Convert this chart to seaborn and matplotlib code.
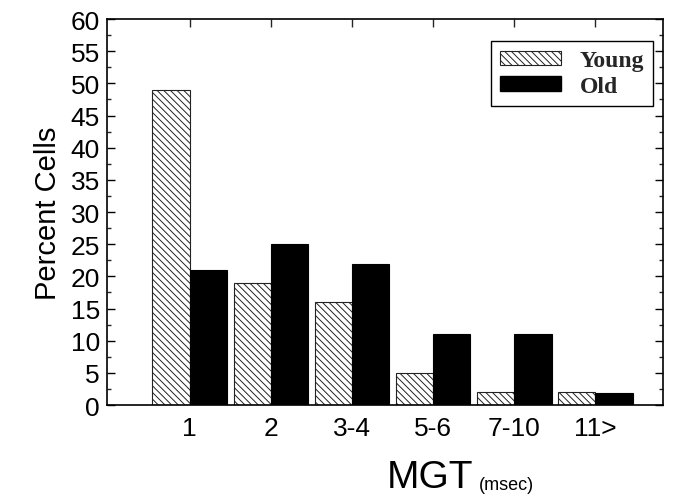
import matplotlib
matplotlib.use("Agg")
import matplotlib.pyplot as plt
import seaborn as sns
import pandas as pd
from matplotlib.patches import Patch
from matplotlib.ticker import MultipleLocator

categories = ["1", "2", "3-4", "5-6", "7-10", "11>"]
young = [49, 19, 16, 5, 2, 2]
old = [21, 25, 22, 11, 11, 1.8]
groups = ["Young", "Old"]

df = pd.DataFrame({
    "MGT": categories * 2,
    "Percent": young + old,
    "Group": [groups[0]] * len(categories) + [groups[1]] * len(categories),
})

sns.set_theme(style="white")
plt.rcParams["font.family"] = ["Liberation Sans", "DejaVu Sans"]
plt.rcParams["hatch.linewidth"] = 0.7

fig = plt.figure(figsize=(6.84, 5.02), dpi=100)
ax = fig.add_axes([0.1564, 0.1912, 0.969 - 0.1564, 0.960 - 0.1912])

sns.barplot(data=df, x="MGT", y="Percent", hue="Group", order=categories,
            hue_order=groups, palette={"Young": "white", "Old": "black"},
            width=0.92, gap=0, edgecolor="black", linewidth=0.8,
            legend=False, ax=ax)

n = len(categories)
for i, p in enumerate(ax.patches[:n]):
    p.set_hatch("\\\\\\\\\\")
    p.set_edgecolor("#222222")

ax.set_xlim(-1.02, 5.83)
ax.set_ylim(0, 60)
ax.yaxis.set_major_locator(MultipleLocator(5))
ax.yaxis.set_minor_locator(MultipleLocator(2.5))
for s in ax.spines.values():
    s.set_visible(True)
    s.set_color("black")
    s.set_linewidth(1.2)

ax.tick_params(axis="y", which="major", direction="in", length=6, width=1,
               left=True, right=True, labelsize=19, colors="black", pad=5)
ax.tick_params(axis="y", which="minor", direction="in", length=3, width=1,
               left=True, right=True)
ax.tick_params(axis="x", which="major", direction="in", length=6, width=1,
               bottom=False, top=True, labelsize=19, pad=8)
for t in ax.get_yticklabels() + ax.get_xticklabels():
    t.set_color("black")

ax.set_xlabel("")
ax.set_ylabel("Percent Cells", fontsize=21, color="black", labelpad=6)

fig.text(0.565, 0.012, "MGT", fontsize=28, ha="left", va="bottom", color="black")
fig.text(0.700, 0.016, "(msec)", fontsize=13, ha="left", va="bottom", color="black")

handles = [Patch(facecolor="white", edgecolor="#222222", hatch="\\\\\\\\\\", linewidth=0.8),
           Patch(facecolor="black", edgecolor="black")]
leg = ax.legend(handles, groups, loc="upper right", bbox_to_anchor=(0.983, 0.944),
                frameon=True, fancybox=False, edgecolor="black", framealpha=1,
                prop={"family": "Liberation Serif", "weight": "bold", "size": 17},
                handlelength=2.55, handleheight=0.55, labelspacing=0.2,
                borderpad=0.4, handletextpad=0.8, borderaxespad=0)
leg.get_frame().set_linewidth(1.0)

fig.savefig("out.png", dpi=100, facecolor="white")
